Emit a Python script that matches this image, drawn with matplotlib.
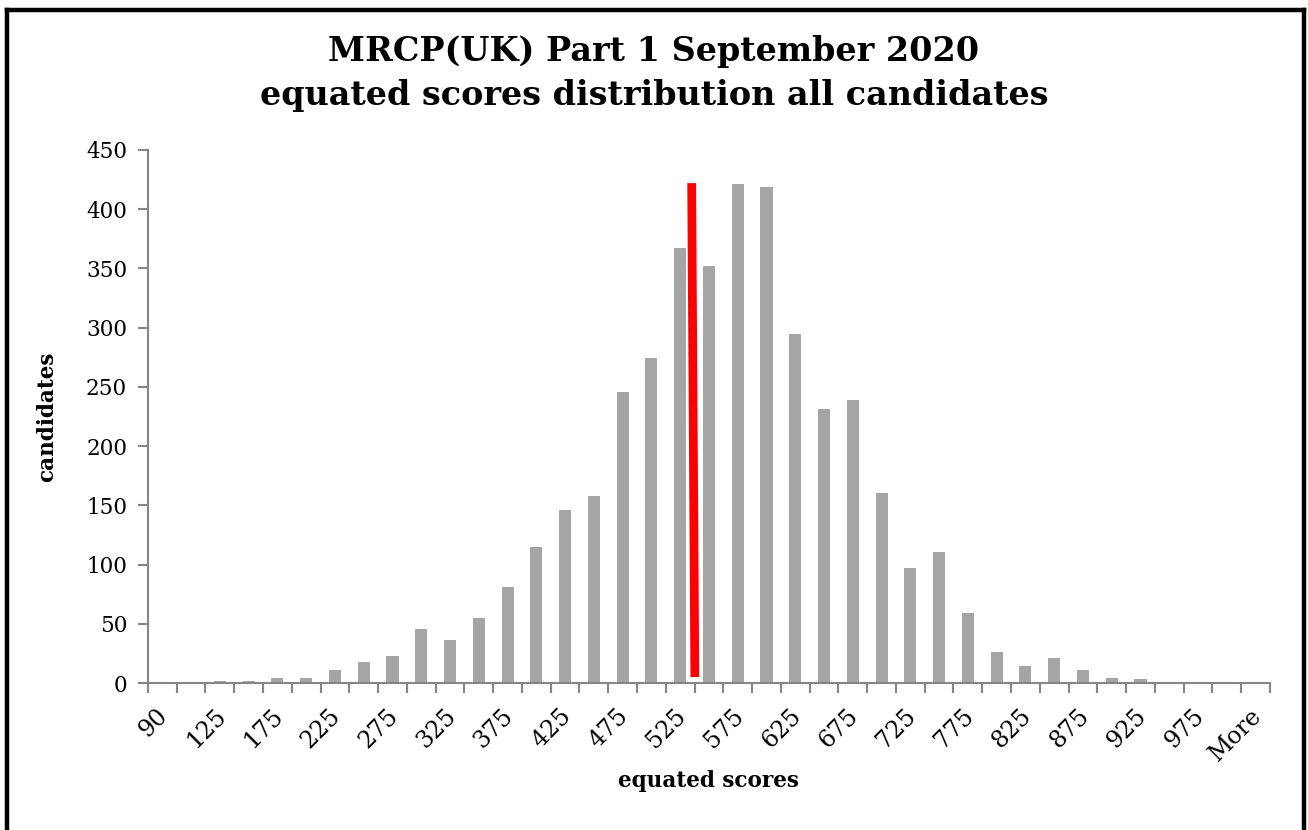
import numpy as np
import matplotlib.pyplot as plt
from matplotlib.lines import Line2D

plt.rcParams['font.family'] = ['DejaVu Serif']

# score bins (upper bound of each bin) and candidate counts
bins = ['90'] + [str(v) for v in range(100, 1001, 25)] + ['More']
counts = [0, 0, 2, 2, 4, 4, 11, 18, 23, 46, 36, 55, 81, 115, 146, 158, 246, 274,
          367, 352, 421, 419, 295, 231, 239, 160, 97, 111, 59, 26, 14, 21, 11,
          4, 3, 0, 0, 0, 0]

# pass mark line, in bin-index units, drawn from bottom to top
pass_x = [18.51, 18.40]
pass_y = [5, 422]

fig = plt.figure(figsize=(13.08, 8.3), dpi=100)
ax = fig.add_axes([0.1131, 0.1771, 0.8578, 0.6422])

x = np.arange(len(bins))
ax.bar(x, counts, width=0.42, color='#a5a5a5', zorder=2)
ax.plot(pass_x, pass_y, color='red', linewidth=6.3, solid_capstyle='butt', zorder=3)

ax.set_xlim(-0.5, len(bins) - 0.5)
ax.set_ylim(0, 450)
ax.set_yticks(range(0, 451, 50))
ax.set_xticks(np.arange(len(bins) + 1) - 0.5)
ax.set_xticklabels([])
for i, lab in enumerate(bins):
    if i % 2 == 0:
        ax.text(i - 0.2, -18, lab, rotation=45, ha='right', va='top',
                rotation_mode='anchor', fontsize=17)

for s in ['top', 'right']:
    ax.spines[s].set_visible(False)
for s in ['left', 'bottom']:
    ax.spines[s].set_color('#868686')
    ax.spines[s].set_linewidth(1.5)
ax.tick_params(axis='both', colors='#868686', width=1.5, length=7, direction='out')
ax.tick_params(axis='y', labelcolor='black', labelsize=15.5, pad=8)

ax.set_xlabel('equated scores', fontsize=15.5, fontweight='bold')
ax.xaxis.set_label_coords(0.5, -0.163)
ax.set_ylabel('candidates', fontsize=15.5, fontweight='bold', labelpad=20)

fig.text(0.5, 0.911, 'MRCP(UK) Part 1 September 2020\nequated scores distribution all candidates',
         ha='center', va='center', fontsize=24, fontweight='bold', linespacing=1.42)

# frame around the chart (no bottom edge)
fig.add_artist(Line2D([0.0053, 0.0053], [0, 0.9885], transform=fig.transFigure, color='black', lw=3.2))
fig.add_artist(Line2D([0.0053, 0.9970], [0.9885, 0.9885], transform=fig.transFigure, color='black', lw=3.2))
fig.add_artist(Line2D([0.9970, 0.9970], [0, 0.9885], transform=fig.transFigure, color='black', lw=3.2))

fig.savefig('out.png', dpi=100)
